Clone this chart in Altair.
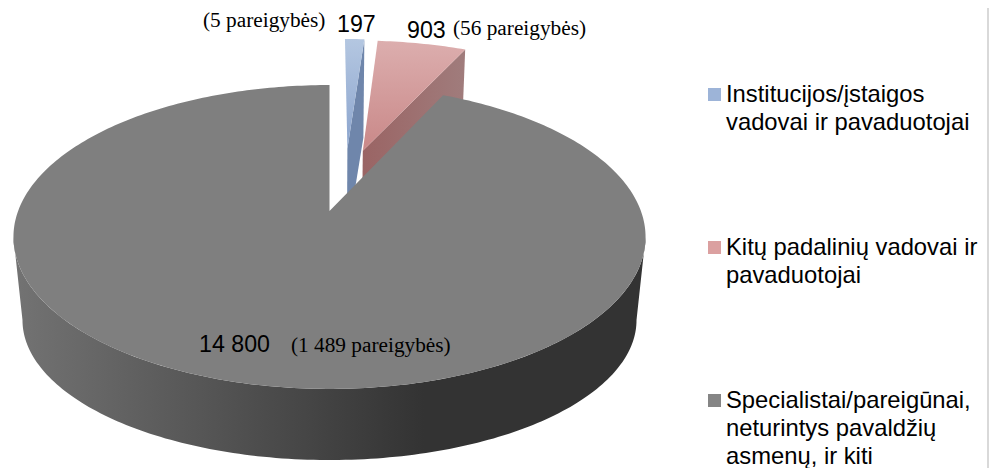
import math
import altair as alt
import pandas as pd

categories = ["Institucijos/įstaigos\nvadovai ir pavaduotojai",
              "Kitų padalinių vadovai ir\npavaduotojai",
              "Specialistai/pareigūnai,\nneturintys pavaldžių\nasmenų, ir kiti"]
values = [197, 903, 14800]
value_labels = ["197", "903", "14 800"]
post_labels = ["(5 pareigybės)", "(56 pareigybės)", "(1 489 pareigybės)"]

K = 0.171
CX = 329.5
TOP = dict(A=311.4, B=147.5, C=211.0)
BOT = dict(A=302.5, B=136.0, C=296.0)
total = sum(values)


def project(plane, u, v):
    w = 1 + K * v
    return CX + plane["A"] * u / w, plane["C"] - plane["B"] * v / w


def arc(plane, a0, a1, ox=0.0, oy=0.0, step=1.0):
    n = max(2, int(abs(a1 - a0) / step) + 1)
    pts = []
    for i in range(n + 1):
        t = math.radians(a0 + (a1 - a0) * i / n)
        pts.append(project(plane, math.sin(t) + ox, math.cos(t) + oy))
    return pts


def poly(pts, fill):
    df = pd.DataFrame({"x": [p[0] for p in pts], "y": [p[1] for p in pts], "o": range(len(pts))})
    return alt.Chart(df).mark_line(fill=fill, strokeWidth=0, strokeOpacity=0, clip=False).encode(
        x=alt.X("x:Q", scale=alt.Scale(domain=[8, 989], nice=False, zero=False), axis=None),
        y=alt.Y("y:Q", scale=alt.Scale(domain=[468, 8], nice=False, zero=False), axis=None),
        order="o:Q",
    )


def grad(c, vertical=True):
    return alt.LinearGradient(
        gradient="linear",
        stops=[alt.GradientStop(color=col, offset=off) for off, col in c],
        x1=0, y1=0, x2=0 if vertical else 1, y2=1 if vertical else 0,
    )


def text(t, x, y, font="Liberation Sans", size=23.2, color="#000000"):
    return alt.Chart(pd.DataFrame({"t": [t]})).mark_text(
        font=font, fontSize=size, color=color, align="left", baseline="alphabetic",
        lineBreak="\n", lineHeight=28,
    ).encode(text="t:N", x=alt.value(x - 8), y=alt.value(y - 8))


a1 = 360 * values[0] / total
a2 = a1 + 360 * values[1] / total

BLUE_OFF = (0.062, 0.4565)
PINK_OFF = (0.115, 0.44)

layers = []

# exploded blue slice
bx, by = BLUE_OFF
t_tip = project(TOP, bx, by)
b_tip = project(BOT, bx, by)
t_edge = arc(TOP, a1, a1, bx, by)[0]
b_edge = arc(BOT, a1, a1, bx, by)[0]
layers.append(poly([t_tip, t_edge, b_edge, b_tip], "#6f86ab"))
layers.append(poly([t_tip] + arc(TOP, 0, a1, bx, by),
                   grad([(0, "#b4c7e1"), (1, "#8ba4cd")])))

# exploded pink slice
px, py = PINK_OFF
t_tip = project(TOP, px, py)
b_tip = project(BOT, px, py)
t_edge = arc(TOP, a2, a2, px, py)[0]
b_edge = arc(BOT, a2, a2, px, py)[0]
layers.append(poly([t_tip, t_edge, b_edge, b_tip],
                   grad([(0, "#9a6464"), (1, "#a07c7c")], vertical=False)))
layers.append(poly([t_tip] + arc(TOP, a1, a2, px, py),
                   grad([(0, "#dcaeae"), (1, "#c98888")])))

# main slice
ext = math.degrees(math.acos(-K))
wall = arc(TOP, ext, 360 - ext) + arc(BOT, 360 - ext, ext)
layers.append(poly(wall, grad([(0, "#737373"), (0.45, "#474747"), (0.65, "#333333"), (1, "#333333")], vertical=False)))
layers.append(poly([project(TOP, 0, 0)] + arc(TOP, a2, 360), "#7f7f7f"))

# border line on the right
layers.append(alt.Chart(pd.DataFrame({"a": [0]})).mark_rule(color="#d9d9d9", strokeWidth=2).encode(
    x=alt.value(980), y=alt.value(0), y2=alt.value(460)))

# value labels
layers.append(text(value_labels[0], 337, 32))
layers.append(text(value_labels[1], 407, 38))
layers.append(text(value_labels[2], 199, 351.5))
serif = "Liberation Serif"
layers.append(text(post_labels[0], 203, 27, serif, 21.3))
layers.append(text(post_labels[1], 453, 35, serif, 21.3))
layers.append(text(post_labels[2], 291, 352, serif, 21.3))

# legend
swatches = ["#9db4d8", "#dba0a0", "#858585"]
sw_y = [94.5, 247.5, 400.5]
tx_y = [102, 255, 408]
for cat, col, sy, ty in zip(categories, swatches, sw_y, tx_y):
    layers.append(alt.Chart(pd.DataFrame({"a": [0]})).mark_square(size=169, color=col, opacity=1).encode(
        x=alt.value(714.5 - 8), y=alt.value(sy - 8)))
    layers.append(text(cat, 726, ty, size=23.8))

chart = alt.layer(*layers).properties(
    width=981, height=460, padding=0, autosize=alt.AutoSizeParams(type="none"),
    background="#ffffff",
).configure_view(stroke=None)

chart.save("out.html", embed_options={"renderer": "svg", "actions": False})
